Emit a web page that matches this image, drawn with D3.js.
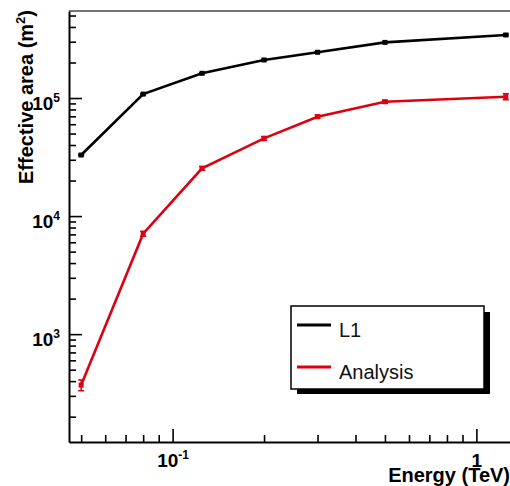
<!DOCTYPE html>
<html>
<head>
<meta charset="utf-8">
<script src="https://cdn.jsdelivr.net/npm/d3@7"></script>
<style>
  body { margin: 0; background: #fff; }
  svg { display: block; font-family: "Liberation Sans", Arial, sans-serif; }
</style>
</head>
<body>
<div class="chart"></div>
<script>
// energies in TeV
const energy = [0.05, 0.08, 0.125, 0.2, 0.3, 0.5, 1.25];
const l1Area = [32900, 108000, 162000, 210000, 244000, 296000, 342000];
const l1Err = [500, 1200, 1500, 2000, 2500, 3000, 6000];
const analysisArea = [370, 7100, 25400, 45500, 69500, 93000, 102600];
const analysisErr = [38, 350, 900, 1800, 2200, 2800, 6000];
const seriesNames = ['L1', 'Analysis'];
const yMajorTicks = [1e3, 1e4, 1e5];
const xMajorTicks = [0.1, 1];

function drawChart() {
  const w = 510;
  const h = 486;
  const margin = { top: 11, right: 0, bottom: 44, left: 69 };
  const colors = ['#000', '#dd0011'];

  const xScale = d3.scaleLog()
    .domain([0.0456, 1.3])
    .range([margin.left, 511]);
  const yScale = d3.scaleLog()
    .domain([122, 546000])
    .range([h - margin.bottom, margin.top]);

  const svg = d3.select('.chart')
    .append('svg')
    .attr('width', w)
    .attr('height', h);

  // minor ticks 2..9 per decade
  const xMinor = [];
  const yMinor = [];
  [0.01, 0.1, 1].forEach(d => {
    for (let k = 2; k <= 9; k++) xMinor.push(d * k);
  });
  [100, 1000, 10000, 100000].forEach(d => {
    for (let k = 2; k <= 9; k++) yMinor.push(d * k);
  });
  const inX = v => v >= xScale.domain()[0] && v <= xScale.domain()[1];
  const inY = v => v >= yScale.domain()[0] && v <= yScale.domain()[1];

  // top frame line
  svg.append('line')
    .attr('x1', margin.left)
    .attr('x2', w)
    .attr('y1', margin.top)
    .attr('y2', margin.top)
    .attr('stroke', '#444')
    .attr('stroke-width', 1.5);

  svg.append('g')
    .attr('class', 'x-minor')
    .attr('transform', `translate(0, ${h - margin.bottom})`)
    .call(d3.axisBottom(xScale).tickValues(xMinor.filter(inX)).tickSize(-7).tickFormat(''));

  svg.append('g')
    .attr('class', 'y-minor')
    .attr('transform', `translate(${margin.left}, 0)`)
    .call(d3.axisLeft(yScale).tickValues(yMinor.filter(inY)).tickSize(-7).tickFormat(''));

  const xAxis = svg.append('g')
    .attr('class', 'x-axis')
    .attr('transform', `translate(0, ${h - margin.bottom})`)
    .call(d3.axisBottom(xScale).tickValues(xMajorTicks).tickSize(-13).tickSizeOuter(0));

  const yAxis = svg.append('g')
    .attr('class', 'y-axis')
    .attr('transform', `translate(${margin.left}, 0)`)
    .call(d3.axisLeft(yScale).tickValues(yMajorTicks).tickSize(-13).tickSizeOuter(0).tickPadding(9));

  svg.selectAll('.x-minor path, .y-minor path').remove();
  svg.selectAll('.tick line').attr('stroke', '#000').attr('stroke-width', 1.6);
  svg.selectAll('.x-axis path, .y-axis path').attr('stroke', '#000').attr('stroke-width', 2);

  // power-of-ten labels with superscripts
  function powLabel(sel) {
    sel.each(function(d) {
      const t = d3.select(this);
      const e = Math.round(Math.log10(d));
      t.text(null)
        .attr('fill', '#000')
        .attr('font-size', 19)
        .attr('font-weight', 'bold')
        .attr('font-family', '"Liberation Sans", Arial, sans-serif');
      if (e === 0) {
        t.text('1');
        return;
      }
      t.append('tspan').text('10');
      t.append('tspan')
        .attr('font-size', 12)
        .attr('dy', -8)
        .text(e < 0 ? '-' + (-e) : e);
    });
  }

  xAxis.selectAll('.tick text')
    .call(powLabel)
    .attr('y', 25)
    .attr('dy', 0);

  yAxis.selectAll('.tick text')
    .call(powLabel)
    .attr('dy', 11.5);

  // axis titles
  svg.append('text')
    .attr('x', w)
    .attr('y', 482)
    .attr('text-anchor', 'end')
    .attr('font-size', 20)
    .attr('font-weight', 'bold')
    .text('Energy (TeV)');

  const yTitle = svg.append('text')
    .attr('transform', 'rotate(-90)')
    .attr('x', -10)
    .attr('y', 33)
    .attr('text-anchor', 'end')
    .attr('font-size', 20)
    .attr('font-weight', 'bold');
  yTitle.append('tspan').text('Effective area (m');
  yTitle.append('tspan').attr('font-size', 13).attr('dy', -8).text('2');
  yTitle.append('tspan').attr('dy', 8).text(')');

  // series
  const series = [
    { name: seriesNames[0], values: l1Area, err: l1Err, color: colors[0] },
    { name: seriesNames[1], values: analysisArea, err: analysisErr, color: colors[1] }
  ];

  const line = d3.line()
    .x(d => xScale(d.e))
    .y(d => yScale(d.v));

  series.forEach(s => {
    const pts = energy.map((e, i) => ({ e: e, v: s.values[i], err: s.err[i] }));
    const g = svg.append('g').attr('class', 'series');

    g.append('path')
      .datum(pts)
      .attr('d', line)
      .attr('fill', 'none')
      .attr('stroke', s.color)
      .attr('stroke-width', 2.6);

    g.selectAll('.err')
      .data(pts)
      .enter()
      .append('path')
      .attr('class', 'err')
      .attr('d', d => {
        const x = xScale(d.e);
        const y1 = yScale(d.v - d.err);
        const y2 = yScale(d.v + d.err);
        return `M${x},${y1}V${y2}M${x - 3},${y1}H${x + 3}M${x - 3},${y2}H${x + 3}`;
      })
      .attr('fill', 'none')
      .attr('stroke', s.color)
      .attr('stroke-width', 1.5);

    g.selectAll('rect')
      .data(pts)
      .enter()
      .append('rect')
      .attr('x', d => xScale(d.e) - 2.5)
      .attr('y', d => yScale(d.v) - 2.5)
      .attr('width', 5)
      .attr('height', 5)
      .attr('fill', s.color);
  });

  // legend with shadow
  const lg = svg.append('g').attr('class', 'legend');
  lg.append('rect')
    .attr('x', 297)
    .attr('y', 312)
    .attr('width', 193)
    .attr('height', 82)
    .attr('fill', '#000');
  lg.append('rect')
    .attr('x', 291)
    .attr('y', 306)
    .attr('width', 193)
    .attr('height', 83)
    .attr('fill', '#fff')
    .attr('stroke', '#000')
    .attr('stroke-width', 1.5);

  series.forEach((s, i) => {
    const y = 325 + i * 42;
    lg.append('line')
      .attr('x1', 297)
      .attr('x2', 331)
      .attr('y1', y)
      .attr('y2', y)
      .attr('stroke', s.color)
      .attr('stroke-width', 3);
    lg.append('text')
      .attr('x', 339)
      .attr('y', y + 12)
      .attr('font-size', 20)
      .attr('fill', '#111')
      .text(s.name);
  });
}

drawChart();
</script>
</body>
</html>
